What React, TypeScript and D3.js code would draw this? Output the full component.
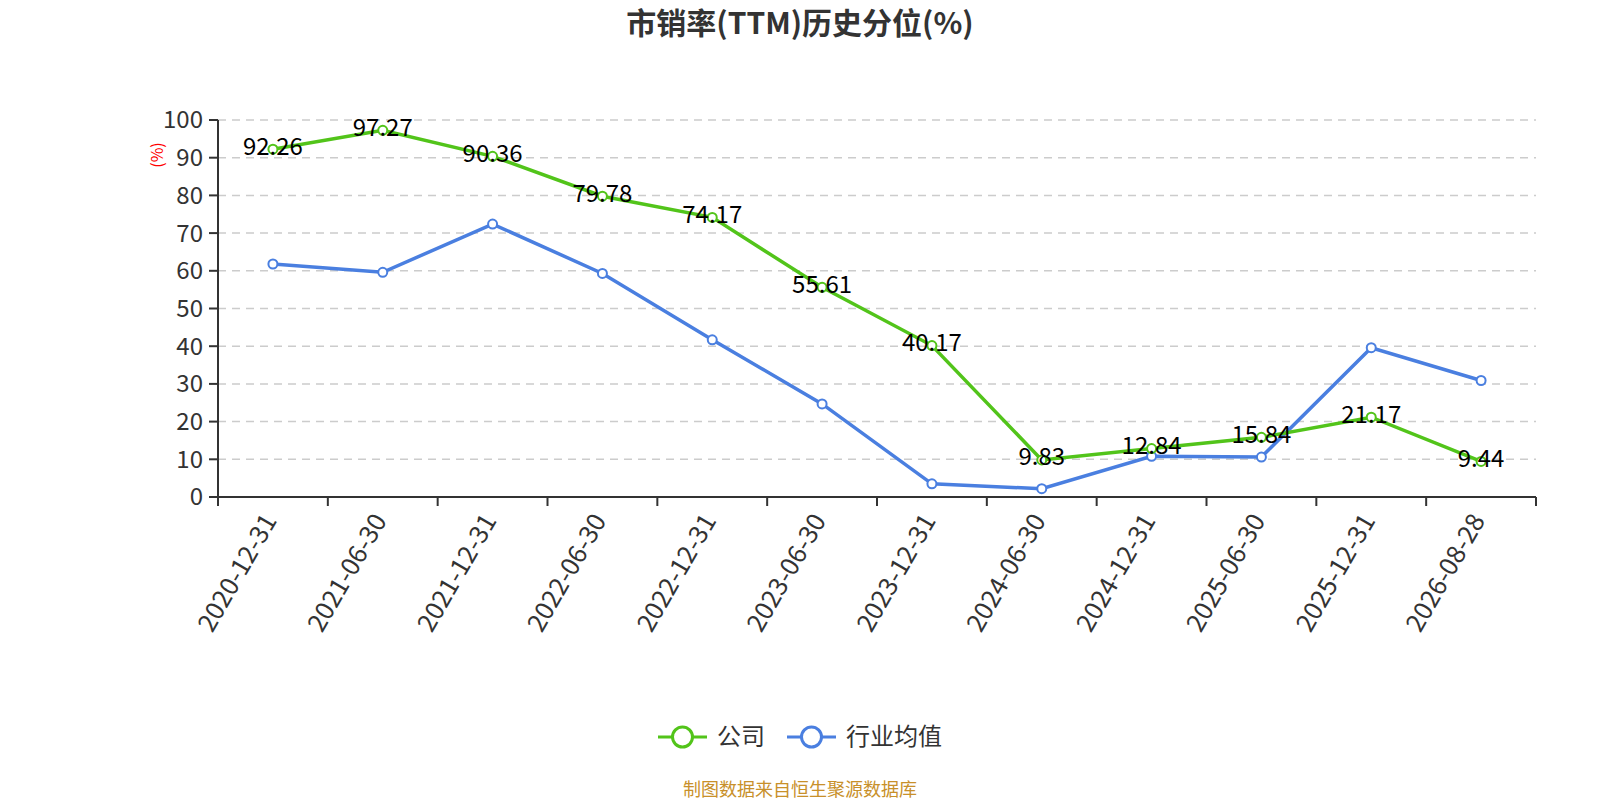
import React from 'react';
import * as d3 from 'd3';

const categories = [
  '2020-12-31', '2021-06-30', '2021-12-31', '2022-06-30', '2022-12-31', '2023-06-30',
  '2023-12-31', '2024-06-30', '2024-12-31', '2025-06-30', '2025-12-31', '2026-08-28',
];
const companyValues = [92.26, 97.27, 90.36, 79.78, 74.17, 55.61, 40.17, 9.83, 12.84, 15.84, 21.17, 9.44];
const industryValues = [61.8, 59.6, 72.4, 59.3, 41.7, 24.7, 3.5, 2.2, 10.8, 10.6, 39.6, 30.9];
const yTicks = [0, 10, 20, 30, 40, 50, 60, 70, 80, 90, 100];

const GREEN = '#52c41a';
const BLUE = '#4a7fe0';
const FONT = '"Microsoft YaHei", "Noto Sans CJK SC", "Noto Sans", sans-serif';

const W = 1600;
const H = 800;
const left = 218;
const right = 1536;
const top = 120;
const bottom = 497;

const App: React.FC = () => {
  const x = d3.scaleBand<string>().domain(categories).range([left, right]);
  const y = d3.scaleLinear().domain([0, 100]).range([bottom, top]);
  const cx = (c: string) => (x(c) ?? 0) + x.bandwidth() / 2;

  const line = d3
    .line<number>()
    .x((_, i) => cx(categories[i]))
    .y((d) => y(d));

  const tickXs = categories.map((c) => x(c) ?? 0).concat([right]);

  return (
    <svg
      width={W}
      height={H}
      style={{ position: 'absolute', left: 0, top: 0, background: '#fff' }}
      fontFamily={FONT}
    >
      <text x={800} y={34} textAnchor="middle" fontSize={30} fontWeight="bold" fill="#333">
        市销率(TTM)历史分位(%)
      </text>

      {/* grid */}
      {yTicks.map((t) =>
        t === 0 ? null : (
          <line
            key={t}
            x1={left}
            x2={right}
            y1={y(t)}
            y2={y(t)}
            stroke="#cccccc"
            strokeWidth={1.5}
            strokeDasharray="8,6"
          />
        )
      )}

      {/* y axis */}
      <line x1={left} x2={left} y1={top} y2={bottom} stroke="#333" strokeWidth={2} />
      {yTicks.map((t) => (
        <g key={t}>
          <line x1={left - 9} x2={left} y1={y(t)} y2={y(t)} stroke="#333" strokeWidth={2} />
          <text x={left - 15} y={y(t)} dy="0.35em" textAnchor="end" fontSize={24} fill="#333">
            {t}
          </text>
        </g>
      ))}
      <text
        transform={`translate(157,${155}) rotate(-90)`}
        textAnchor="middle"
        dy="0.35em"
        fontSize={16}
        fill="red"
      >
        (%)
      </text>

      {/* x axis */}
      <line x1={left} x2={right} y1={bottom} y2={bottom} stroke="#333" strokeWidth={2} />
      {tickXs.map((tx, i) => (
        <line key={i} x1={tx} x2={tx} y1={bottom} y2={bottom + 9} stroke="#333" strokeWidth={2} />
      ))}
      {categories.map((c) => (
        <text
          key={c}
          transform={`translate(${cx(c) - 3},${bottom + 19}) rotate(-60)`}
          textAnchor="end"
          dy="0.35em"
          fontSize={25.5}
          fill="#333"
        >
          {c}
        </text>
      ))}

      {/* lines */}
      <path d={line(industryValues) ?? ''} fill="none" stroke={BLUE} strokeWidth={3.5} />
      <path d={line(companyValues) ?? ''} fill="none" stroke={GREEN} strokeWidth={3.5} />
      {industryValues.map((v, i) => (
        <circle key={i} cx={cx(categories[i])} cy={y(v)} r={4.5} fill="#fff" stroke={BLUE} strokeWidth={2} />
      ))}
      {companyValues.map((v, i) => (
        <circle key={i} cx={cx(categories[i])} cy={y(v)} r={4.5} fill="#fff" stroke={GREEN} strokeWidth={2} />
      ))}
      {companyValues.map((v, i) => (
        <text
          key={i}
          x={cx(categories[i])}
          y={y(v) - 3}
          dy="0.35em"
          textAnchor="middle"
          fontSize={24}
          fill="#000"
        >
          {v.toFixed(2)}
        </text>
      ))}

      {/* legend */}
      <g transform="translate(658,737)">
        <line x1={0} x2={49} y1={0} y2={0} stroke={GREEN} strokeWidth={3} />
        <circle cx={24.5} cy={0} r={10} fill="#fff" stroke={GREEN} strokeWidth={3} />
        <text x={59} y={0} dy="0.35em" fontSize={24} fill="#333">公司</text>
      </g>
      <g transform="translate(787,737)">
        <line x1={0} x2={49} y1={0} y2={0} stroke={BLUE} strokeWidth={3} />
        <circle cx={24.5} cy={0} r={10} fill="#fff" stroke={BLUE} strokeWidth={3} />
        <text x={59} y={0} dy="0.35em" fontSize={24} fill="#333">行业均值</text>
      </g>

      <text x={800} y={796} textAnchor="middle" fontSize={18} fill="#c8902a">
        制图数据来自恒生聚源数据库
      </text>
    </svg>
  );
};

export default App;
